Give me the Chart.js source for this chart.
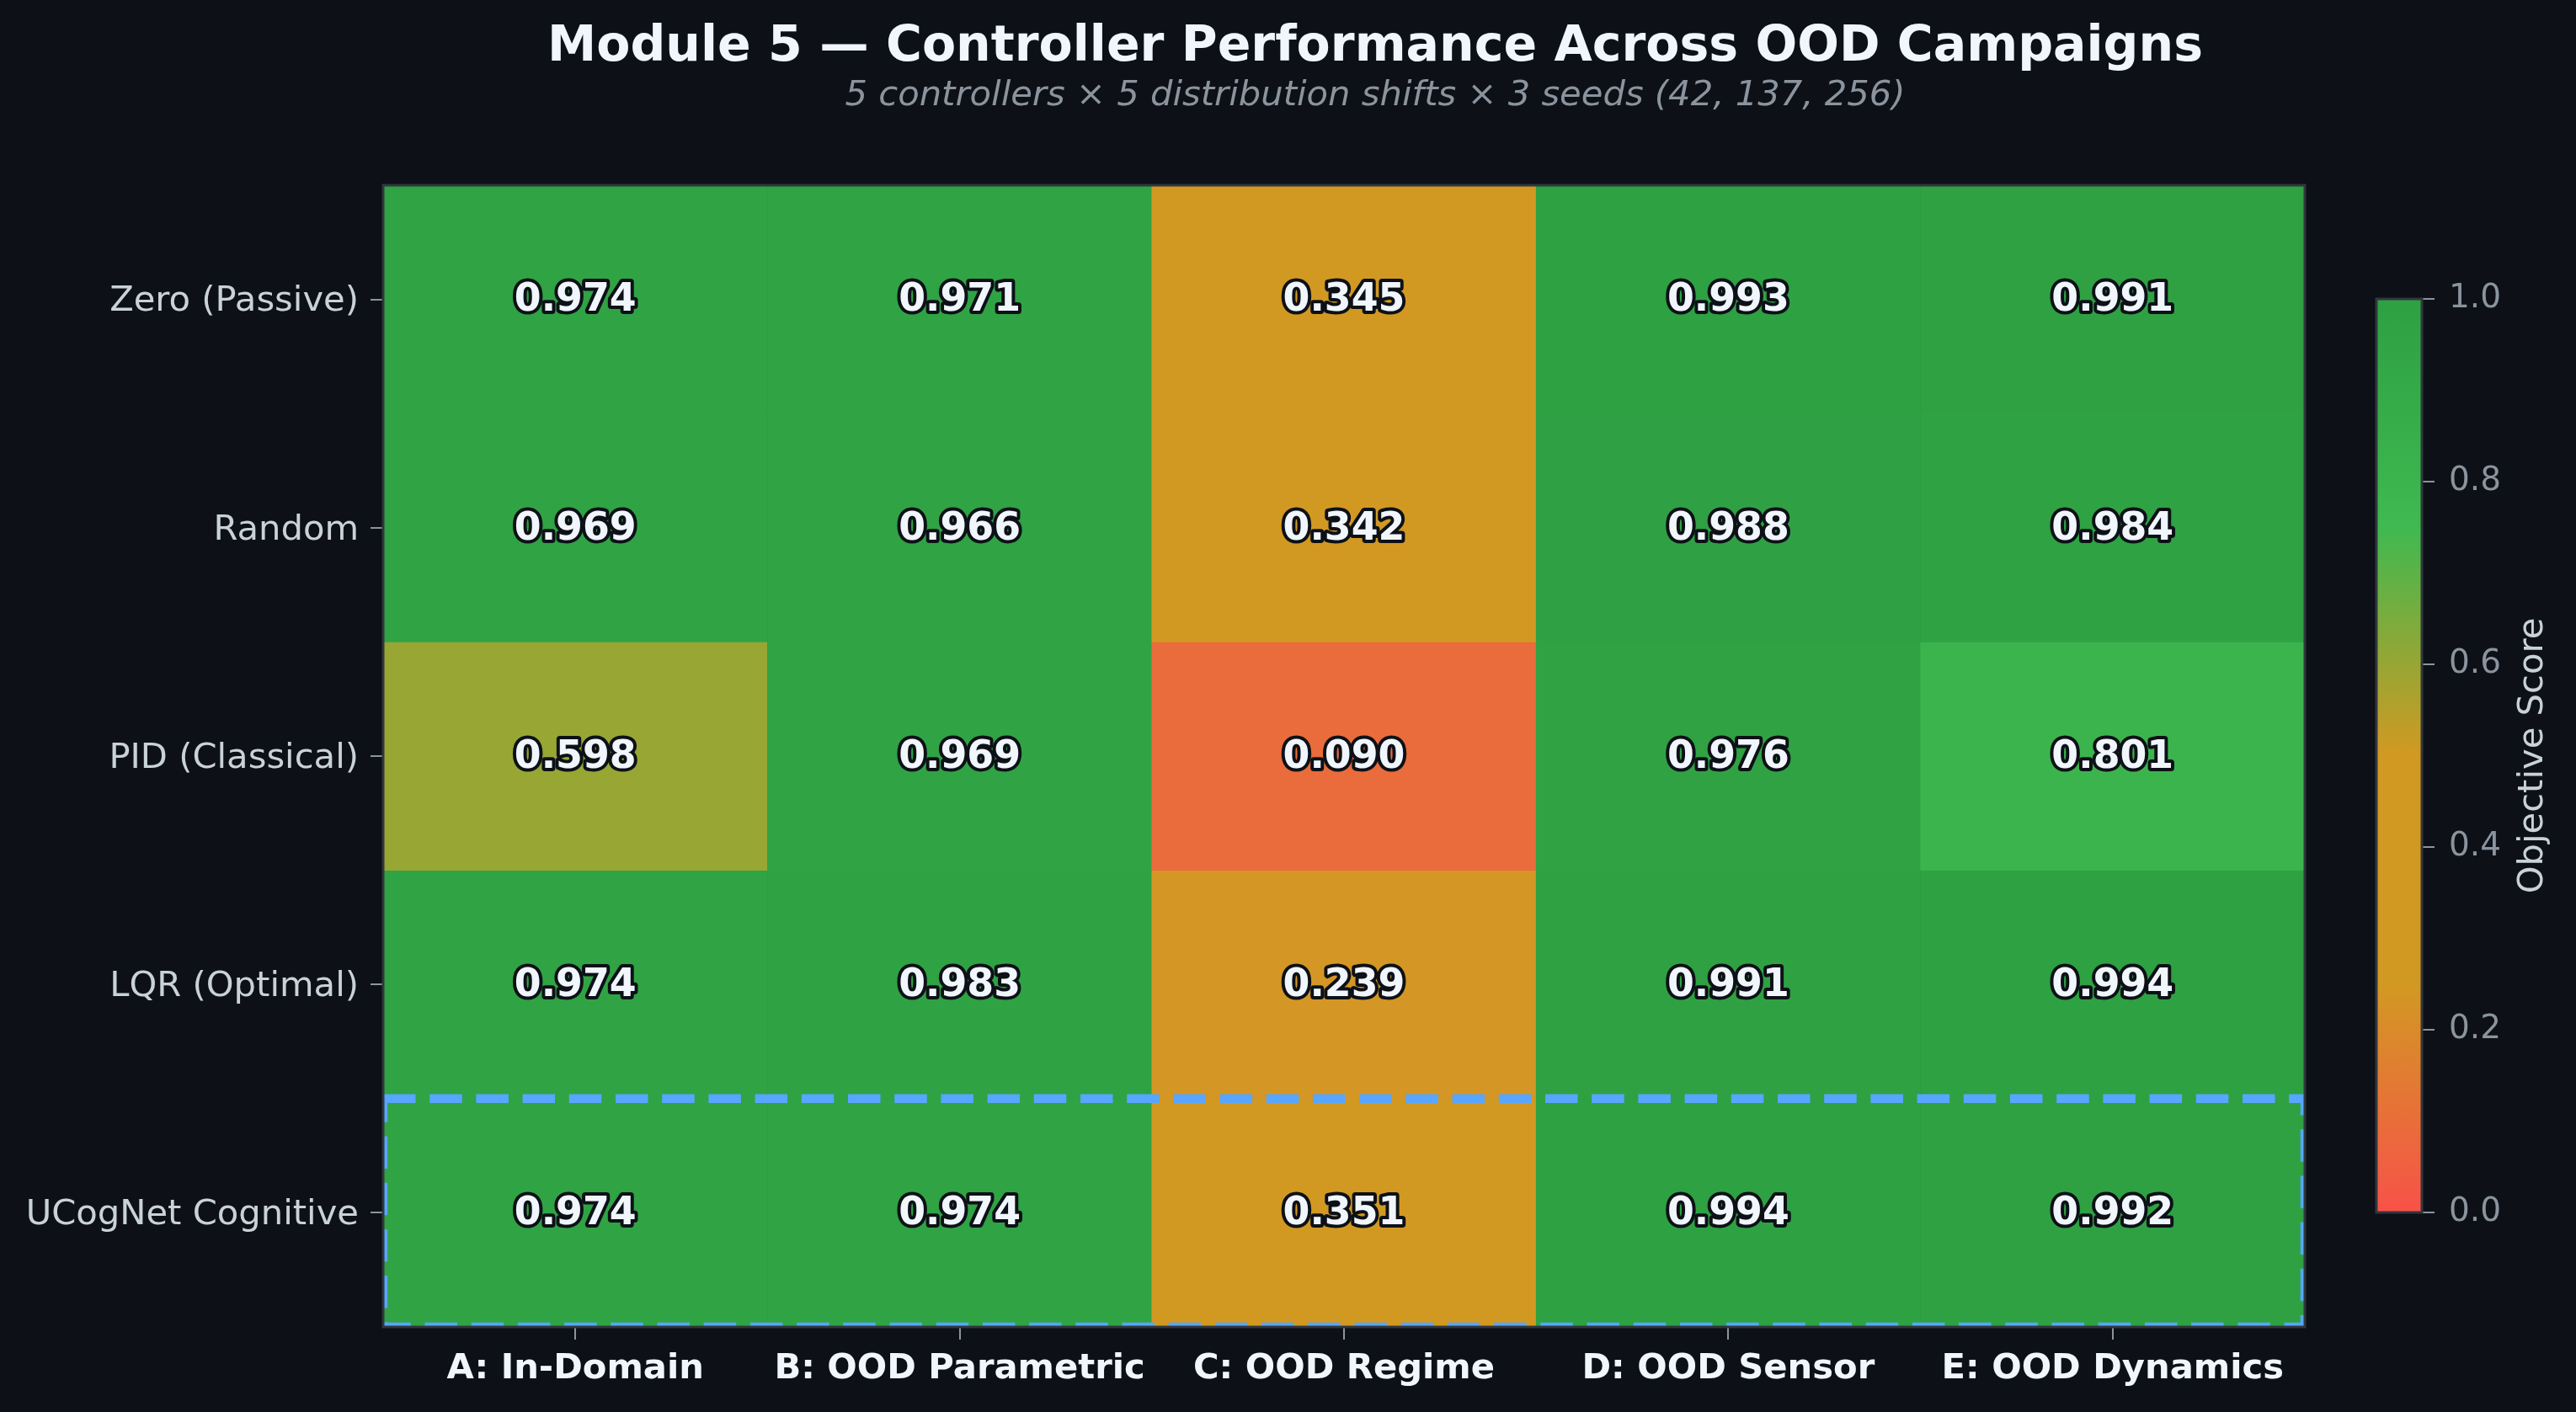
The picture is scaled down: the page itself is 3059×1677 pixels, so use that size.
<!DOCTYPE html>
<html>
<head>
<meta charset="utf-8">
<title>Module 5 — Controller Performance Across OOD Campaigns</title>
<script src="https://cdn.jsdelivr.net/npm/chart.js@4.4.1/dist/chart.umd.min.js"></script>
<style>
  html, body { margin: 0; padding: 0; background: #0d1117; }
  #wrap { position: relative; width: 3059px; height: 1677px; overflow: hidden; }
  #heat { position: absolute; left: 0; top: 0; }
  #cbar { position: absolute; left: 2700px; top: 0; }
</style>
</head>
<body>
<div id="wrap">
  <canvas id="heat" width="3059" height="1677"></canvas>
  <canvas id="cbar" width="359" height="1677"></canvas>
</div>
<script>
// Heatmap data: rows = controllers, columns = distribution shifts
const controllers = ['Zero (Passive)', 'Random', 'PID (Classical)', 'LQR (Optimal)', 'UCogNet Cognitive'];
const shifts = ['A: In-Domain', 'B: OOD Parametric', 'C: OOD Regime', 'D: OOD Sensor', 'E: OOD Dynamics'];

const zeroScores   = [0.974, 0.971, 0.345, 0.993, 0.991];
const randomScores = [0.969, 0.966, 0.342, 0.988, 0.984];
const pidScores    = [0.598, 0.969, 0.090, 0.976, 0.801];
const lqrScores    = [0.974, 0.983, 0.239, 0.991, 0.994];
const ucogScores   = [0.974, 0.974, 0.351, 0.994, 0.992];
const scoreRows = [zeroScores, randomScores, pidScores, lqrScores, ucogScores];

const colorbarTicks = [0.0, 0.2, 0.4, 0.6, 0.8, 1.0];
const highlightRow = 4; // UCogNet row gets the dashed box

// Theme
const theme = {
  bg: '#0d1117',
  title: '#f0f6fc',
  muted: '#8b949e',
  label: '#c9d1d9',
  spine: '#30363d',
  highlight: '#58a6ff'
};

// red -> amber -> amber -> green -> dark green
const cmapStops = [
  [0.00, [248, 81, 73]],
  [0.25, [210, 153, 34]],
  [0.50, [210, 153, 34]],
  [0.75, [63, 185, 80]],
  [1.00, [46, 160, 67]]
];

function scoreColor(v) {
  for (let k = 1; k < cmapStops.length; k++) {
    const [p1, c1] = cmapStops[k];
    const [p0, c0] = cmapStops[k - 1];
    if (v <= p1) {
      const t = (v - p0) / (p1 - p0);
      const rgb = c0.map((c, i) => Math.round(c + (c1[i] - c) * t));
      return `rgb(${rgb.join(',')})`;
    }
  }
  return `rgb(${cmapStops[cmapStops.length - 1][1].join(',')})`;
}

Chart.defaults.font.family = '"DejaVu Sans", sans-serif';

const FONT = '"DejaVu Sans", sans-serif';

// Figure title + subtitle (centered like the original suptitle)
const figTitle = {
  id: 'figTitle',
  afterDraw(chart) {
    const ctx = chart.ctx;
    ctx.save();
    ctx.textAlign = 'center';
    ctx.textBaseline = 'middle';
    ctx.fillStyle = theme.title;
    ctx.font = `bold 58.5px ${FONT}`;
    ctx.fillText('Module 5 — Controller Performance Across OOD Campaigns', 1633, 57);
    ctx.fillStyle = theme.muted;
    ctx.font = `italic 41.7px ${FONT}`;
    ctx.fillText('5 controllers × 5 distribution shifts × 3 seeds (42, 137, 256)', 1633, 114);
    ctx.restore();
  }
};

// Dashed box round the highlighted controller row
const highlightBox = {
  id: 'highlightBox',
  afterDatasetsDraw(chart) {
    const { ctx, chartArea, scales } = chart;
    const top = scales.y.getPixelForValue(highlightRow);
    const bottom = scales.y.getPixelForValue(highlightRow + 1);
    ctx.save();
    ctx.beginPath();
    ctx.rect(chartArea.left, chartArea.top, chartArea.right - chartArea.left, chartArea.bottom - chartArea.top);
    ctx.clip();
    ctx.strokeStyle = theme.highlight;
    ctx.lineWidth = 10.4;
    ctx.setLineDash([38.5, 16.7]);
    ctx.beginPath();
    ctx.moveTo(chartArea.left, top);
    ctx.lineTo(chartArea.right, top);
    ctx.lineTo(chartArea.right, bottom);
    ctx.lineTo(chartArea.left, bottom);
    ctx.closePath();
    ctx.stroke();
    ctx.restore();
  }
};

// Value text inside every cell
const cellLabels = {
  id: 'cellLabels',
  afterDatasetsDraw(chart) {
    const ctx = chart.ctx;
    ctx.save();
    ctx.font = `bold 45.8px ${FONT}`;
    ctx.textAlign = 'center';
    ctx.textBaseline = 'middle';
    ctx.lineJoin = 'round';
    chart.data.datasets.forEach((ds, i) => {
      chart.getDatasetMeta(i).data.forEach((bar, j) => {
        const x = bar.x;
        const y = (bar.y + bar.base) / 2 + 2;
        const txt = scoreRows[i][j].toFixed(3);
        ctx.lineWidth = 8;
        ctx.strokeStyle = theme.bg;
        ctx.strokeText(txt, x, y);
        ctx.fillStyle = theme.title;
        ctx.fillText(txt, x, y);
      });
    });
    ctx.restore();
  }
};

// Axes frame on all four sides
const spines = {
  id: 'spines',
  afterDraw(chart) {
    const { ctx, chartArea } = chart;
    ctx.save();
    ctx.strokeStyle = theme.spine;
    ctx.lineWidth = 3;
    ctx.strokeRect(chartArea.left, chartArea.top, chartArea.right - chartArea.left, chartArea.bottom - chartArea.top);
    ctx.restore();
  }
};

const heatChart = new Chart(document.getElementById('heat'), {
  type: 'bar',
  data: {
    labels: shifts,
    datasets: scoreRows.map((row, i) => ({
      label: controllers[i],
      data: row.map(() => 1),
      backgroundColor: row.map(scoreColor),
      borderWidth: 0,
      barPercentage: 1,
      categoryPercentage: 1
    }))
  },
  options: {
    responsive: false,
    animation: false,
    layout: { padding: { top: 220, right: 322, bottom: 0, left: 0 } },
    plugins: {
      legend: { display: false },
      tooltip: { enabled: false }
    },
    scales: {
      x: {
        stacked: true,
        grid: { offset: false, drawOnChartArea: false, tickLength: 15, color: theme.muted, lineWidth: 2 },
        border: { display: false },
        ticks: {
          color: theme.title,
          font: { size: 41.7, weight: 'bold' },
          padding: 10,
          maxRotation: 0,
          autoSkip: false
        },
        afterFit: scale => { scale.height = 101; }
      },
      y: {
        stacked: true,
        reverse: true,
        min: 0,
        max: controllers.length,
        afterBuildTicks: scale => {
          scale.ticks = controllers.map((_, i) => ({ value: i + 0.5 }));
        },
        ticks: {
          callback: (value, index) => controllers[index],
          color: theme.label,
          font: { size: 41.7 },
          padding: 14,
          labelOffset: 3
        },
        grid: { drawOnChartArea: false, tickLength: 15, color: theme.muted, lineWidth: 2 },
        border: { display: false },
        afterFit: scale => { scale.width = 455; }
      }
    }
  },
  plugins: [highlightBox, cellLabels, spines, figTitle]
});

// Colorbar: one full-height bar painted with the colormap
const cbarFrame = {
  id: 'cbarFrame',
  afterDraw(chart) {
    const { ctx, chartArea } = chart;
    ctx.save();
    ctx.strokeStyle = theme.spine;
    ctx.lineWidth = 3;
    ctx.strokeRect(chartArea.left, chartArea.top, chartArea.right - chartArea.left, chartArea.bottom - chartArea.top);
    // rotated label, reads bottom to top
    ctx.translate(308, (chartArea.top + chartArea.bottom) / 2);
    ctx.rotate(-Math.PI / 2);
    ctx.textAlign = 'center';
    ctx.textBaseline = 'middle';
    ctx.fillStyle = theme.label;
    ctx.font = `41.7px ${FONT}`;
    ctx.fillText('Objective Score', 0, 0);
    ctx.restore();
  }
};

const colorbar = new Chart(document.getElementById('cbar'), {
  type: 'bar',
  data: {
    labels: ['score'],
    datasets: [{
      data: [1],
      backgroundColor: c => {
        const area = c.chart.chartArea;
        if (!area) return null;
        const g = c.chart.ctx.createLinearGradient(0, area.bottom, 0, area.top);
        cmapStops.forEach(([p, rgb]) => g.addColorStop(p, `rgb(${rgb.join(',')})`));
        return g;
      },
      borderWidth: 0,
      barPercentage: 1,
      categoryPercentage: 1
    }]
  },
  options: {
    responsive: false,
    animation: false,
    layout: { padding: { top: 355, bottom: 237, left: 122, right: 0 } },
    plugins: {
      legend: { display: false },
      tooltip: { enabled: false }
    },
    scales: {
      x: { display: false },
      y: {
        position: 'right',
        min: 0,
        max: 1,
        afterBuildTicks: scale => {
          scale.ticks = colorbarTicks.map(v => ({ value: v }));
        },
        ticks: {
          callback: value => value.toFixed(1),
          color: theme.muted,
          font: { size: 39 },
          padding: 17
        },
        grid: { drawOnChartArea: false, tickLength: 15, color: theme.muted, lineWidth: 2 },
        border: { display: false },
        afterFit: scale => { scale.width = 183; }
      }
    }
  },
  plugins: [cbarFrame]
});
</script>
</body>
</html>
